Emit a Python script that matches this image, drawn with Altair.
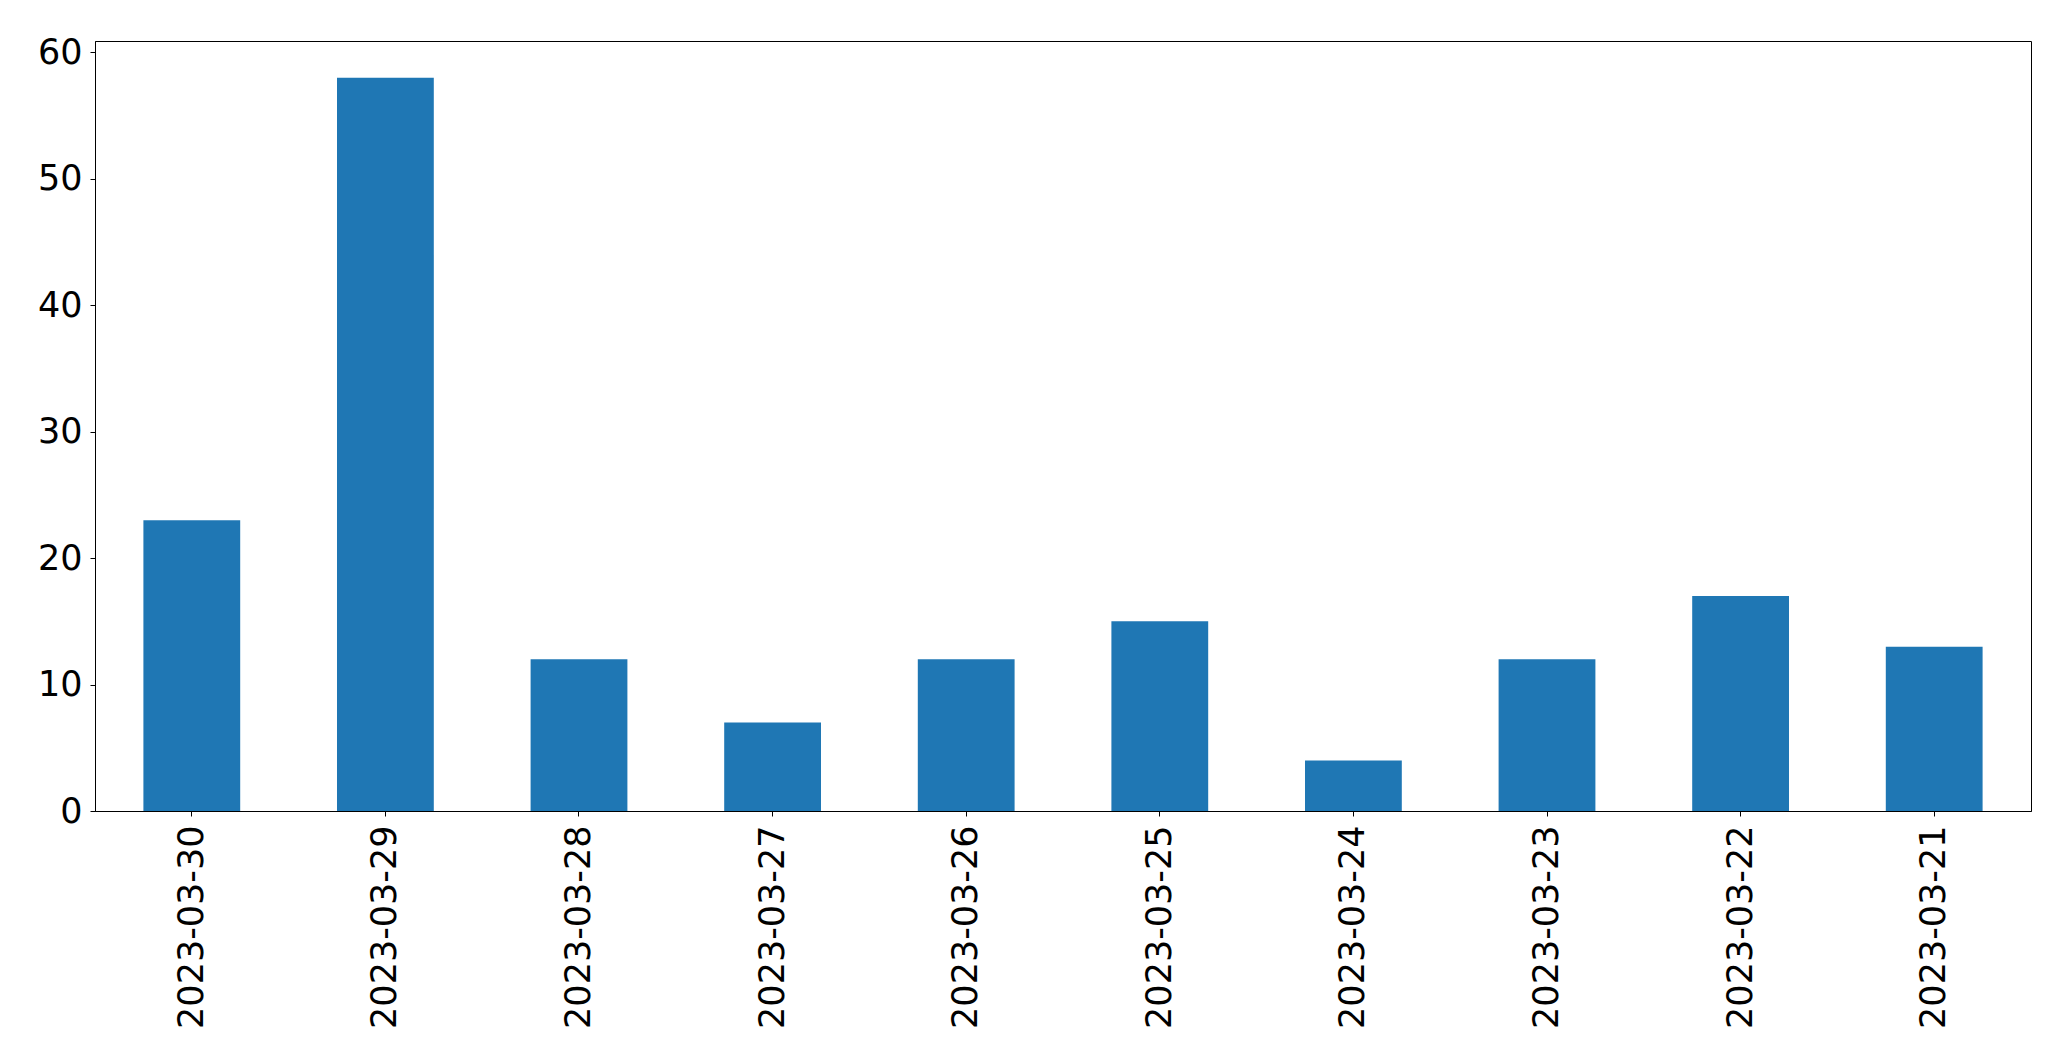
import altair as alt
import pandas as pd

dates = ["2023-03-30", "2023-03-29", "2023-03-28", "2023-03-27", "2023-03-26",
         "2023-03-25", "2023-03-24", "2023-03-23", "2023-03-22", "2023-03-21"]
counts = [23, 58, 12, 7, 12, 15, 4, 12, 17, 13]

df = pd.DataFrame({"date": dates, "count": counts})

chart = alt.Chart(df).mark_bar(color="#1f77b4").encode(
    x=alt.X("date:N", sort=dates, title=None,
            scale=alt.Scale(paddingInner=0.5, paddingOuter=0.25),
            axis=alt.Axis(labelAngle=270, labelAlign="right", labelBaseline="middle",
                          labelFont="DejaVu Sans", labelFontSize=35, labelColor="black",
                          labelLimit=0,
                          tickSize=5, tickColor="black", tickWidth=1,
                          domainColor="black", domainWidth=1, labelPadding=9,
                          grid=False)),
    y=alt.Y("count:Q", title=None,
            scale=alt.Scale(domain=[0, 60.9], nice=False, zero=True),
            axis=alt.Axis(values=[0, 10, 20, 30, 40, 50, 60],
                          labelFont="DejaVu Sans", labelFontSize=35, labelColor="black",
                          tickSize=5, tickColor="black", tickWidth=1,
                          domainColor="black", domainWidth=1, labelPadding=8,
                          grid=False)),
).properties(
    width=1936, height=770,
    autosize=alt.AutoSizeParams(type="none"),
    padding={"left": 87, "top": 33, "right": 32, "bottom": 236},
).configure_view(stroke="black", strokeWidth=1)

chart.save("out.html", embed_options={"renderer": "svg", "actions": False})
